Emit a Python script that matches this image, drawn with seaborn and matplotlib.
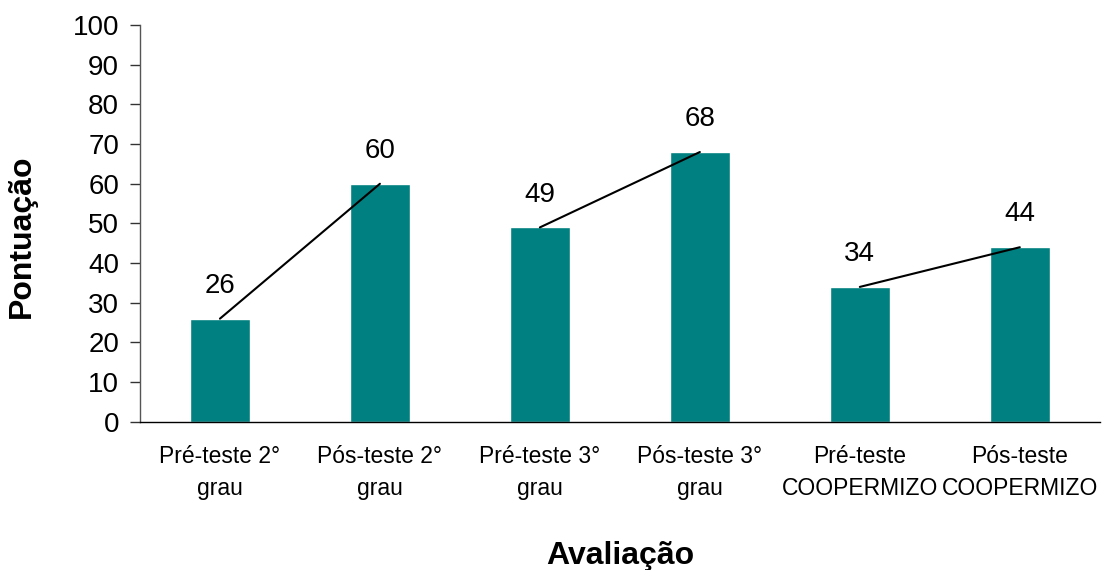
import matplotlib
matplotlib.use("Agg")
import matplotlib.pyplot as plt
import seaborn as sns
import pandas as pd
import numpy as np

categories = ["Pré-teste 2°\ngrau", "Pós-teste 2°\ngrau", "Pré-teste 3°\ngrau",
              "Pós-teste 3°\ngrau", "Pré-teste\nCOOPERMIZO", "Pós-teste\nCOOPERMIZO"]
scores = [26, 60, 49, 68, 34, 44]
pairs = [(0, 1), (2, 3), (4, 5)]

sns.set_style("white")
plt.rcParams["font.family"] = ["Liberation Sans", "DejaVu Sans"]
plt.rcParams["text.color"] = "black"
plt.rcParams["axes.labelcolor"] = "black"
plt.rcParams["xtick.color"] = "black"
plt.rcParams["ytick.color"] = "black"

df = pd.DataFrame({"Avaliação": categories, "Pontuação": scores})

fig = plt.figure(figsize=(11.02, 5.70), dpi=100)
ax = fig.add_axes([0.127, 0.26, 0.871, 0.696])

sns.barplot(data=df, x="Avaliação", y="Pontuação", color="#008080",
            saturation=1, width=0.375, ax=ax)

# lines linking pre/post tests
for a, b in pairs:
    ax.plot([a, b], [scores[a], scores[b]], color="black", lw=1.5)

# value labels
for i, v in enumerate(scores):
    ax.text(i, v + 5, str(v), ha="center", va="bottom", fontsize=20)

ax.set_ylim(0, 100)
ax.set_yticks(np.arange(0, 101, 10))
ax.set_xlim(-0.5, len(categories) - 0.5)
ax.set_xticks(range(len(categories)))
ax.set_xticklabels(categories, fontsize=16.5, linespacing=1.45)
ax.set_xticks(np.arange(-0.5, len(categories), 1), minor=True)
ax.tick_params(axis="x", which="major", length=0, pad=17)
ax.tick_params(axis="x", which="minor", length=6, width=1, color="black", direction="out")
ax.tick_params(axis="y", labelsize=20, length=7, width=1, color="#333333",
               direction="out", left=True, pad=8)

for s in ["top", "right"]:
    ax.spines[s].set_visible(False)
ax.spines["left"].set_color("#555555")
ax.spines["bottom"].set_color("black")
ax.spines["left"].set_linewidth(1)
ax.spines["bottom"].set_linewidth(1)

ax.set_ylabel("Pontuação", fontsize=23, fontweight="bold")
ax.yaxis.set_label_coords(-0.107, 0.468)
ax.set_xlabel("Avaliação", fontsize=23, fontweight="bold", labelpad=30)

fig.savefig("out.png", dpi=100)
